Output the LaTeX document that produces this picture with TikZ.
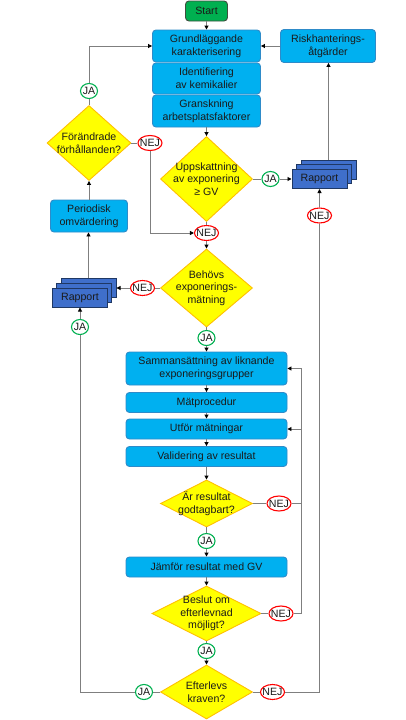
\documentclass[tikz,border=0pt]{standalone}
\usepackage{fontspec}
\setmainfont{Liberation Sans}
\usetikzlibrary{shapes.geometric,arrows.meta}
\definecolor{boxfill}{HTML}{00B0F0}
\definecolor{boxedge}{HTML}{2E8BC9}
\definecolor{diafill}{HTML}{FFFF00}
\definecolor{diaedge}{HTML}{FFC000}
\definecolor{startfill}{HTML}{00B050}
\definecolor{startedge}{HTML}{3F4F3F}
\definecolor{repfill}{HTML}{3F6FCB}
\definecolor{repedge}{HTML}{1F3864}
\definecolor{jacol}{HTML}{00B050}
\definecolor{nejcol}{HTML}{FF0000}
\definecolor{linecol}{HTML}{7F7F7F}
\definecolor{txtcol}{HTML}{1A1A1A}
\begin{document}
\begin{tikzpicture}[x=1pt,y=-1pt,
 every node/.style={font=\fontsize{10.6}{12.7}\selectfont, text=txtcol},
 box/.style={draw=boxedge, fill=boxfill, rounded corners=3.5pt, line width=0.9pt, align=center, inner sep=0pt},
 dia/.style={shape=diamond, draw=diaedge, fill=diafill, line width=0.9pt, inner sep=0pt},
 diatext/.style={align=center, inner sep=0pt},
 rep/.style={draw=repedge, fill=repfill, line width=1pt, minimum width=55pt, minimum height=19pt, inner sep=0pt},
 jacirc/.style={ellipse, draw=jacol, fill=white, line width=1.1pt, minimum width=17pt, minimum height=15pt, inner sep=0pt},
 nejcirc/.style={ellipse, draw=nejcol, fill=white, line width=1.1pt, minimum width=24pt, minimum height=15pt, inner sep=0pt},
 conn/.style={draw=linecol, line width=0.9pt},
 arr/.style={conn, -{Triangle[length=4pt,width=4pt,color=black,fill=black]}},
]
\fill[white] (0,0) rectangle (405,720);
\useasboundingbox (0,0) rectangle (405,720);

% main column
\node[box, fill=startfill, draw=startedge, minimum width=42pt, minimum height=20pt] (start) at (206.5,11) {Start};
\node[box, minimum width=108pt, minimum height=32pt] (grund) at (206.5,46) {Grundläggande\\karakterisering};
\node[box, minimum width=108pt, minimum height=31pt] (ident) at (206.5,78.5) {Identifiering\\av kemikalier};
\node[box, minimum width=108pt, minimum height=32pt] (gransk) at (206.5,111) {Granskning\\arbetsplatsfaktorer};
\node[box, minimum width=95pt, minimum height=33pt] (risk) at (328,46) {Riskhanterings-\\åtgärder};

\node[dia, minimum width=92pt, minimum height=85pt] (upps) at (206.5,179) {};
\node[diatext] at (upps.center) {Uppskattning\\av exponering\\≥ GV};

\node[dia, minimum width=84pt, minimum height=75pt] (forand) at (89,143) {};
\node[diatext] at (forand.center) {Förändrade\\förhållanden?};

\node[box, minimum width=77pt, minimum height=32pt] (period) at (89,216) {Periodisk\\omvärdering};

\node[dia, minimum width=92pt, minimum height=78pt] (behov) at (206.5,288) {};
\node[diatext] at (behov.center) {Behövs\\exponerings-\\mätning};

\node[box, minimum width=161pt, minimum height=33pt] (samm) at (206.5,368.5) {Sammansättning av liknande\\exponeringsgrupper};
\node[box, minimum width=161pt, minimum height=20pt] (matp) at (206.5,402.5) {Mätprocedur};
\node[box, minimum width=161pt, minimum height=20pt] (utfor) at (206.5,429) {Utför mätningar};
\node[box, minimum width=161pt, minimum height=20pt] (valid) at (206.5,456.5) {Validering av resultat};

\node[dia, minimum width=92pt, minimum height=47pt] (ar) at (206.5,503.5) {};
\node[diatext] at (ar.center) {Är resultat\\godtagbart?};

\node[box, minimum width=161pt, minimum height=20pt] (jamfor) at (206.5,567) {Jämför resultat med GV};

\node[dia, minimum width=109pt, minimum height=55pt] (beslut) at (206.5,613.5) {};
\node[diatext] at (beslut.center) {Beslut om\\efterlevnad\\möjligt?};

\node[dia, minimum width=92pt, minimum height=54pt] (efter) at (206.5,692) {};
\node[diatext] at (efter.center) {Efterlevs\\kraven?};

% report stacks
\node[rep] (rapRc) at (328.5,169.5) {};
\node[rep] (rapRb) at (324,174.2) {};
\node[rep] (rapR) at (319.5,179) {Rapport};
\node[rep] (rapLc) at (88.5,288) {};
\node[rep] (rapLb) at (84.2,292.7) {};
\node[rep] (rapL) at (80,297.5) {Rapport};

% JA / NEJ markers
\node[jacirc] (jaF) at (89,91) {\makebox[0pt]{JA}};
\node[nejcirc] (nejF) at (150,143) {\makebox[0pt]{NEJ}};
\node[jacirc] (jaU) at (270.5,179) {\makebox[0pt]{JA}};
\node[nejcirc] (nejR) at (319.5,215.5) {\makebox[0pt]{NEJ}};
\node[nejcirc] (nejU) at (206.5,233) {\makebox[0pt]{NEJ}};
\node[nejcirc] (nejB) at (142.5,288) {\makebox[0pt]{NEJ}};
\node[jacirc] (jaRL) at (80,327) {\makebox[0pt]{JA}};
\node[jacirc] (jaB) at (206.5,338) {\makebox[0pt]{JA}};
\node[nejcirc] (nejA) at (279,503.5) {\makebox[0pt]{NEJ}};
\node[jacirc] (jaA) at (206.5,541) {\makebox[0pt]{JA}};
\node[nejcirc] (nejBe) at (281,613.5) {\makebox[0pt]{NEJ}};
\node[jacirc] (jaBe) at (206.5,651) {\makebox[0pt]{JA}};
\node[jacirc] (jaE) at (144,692) {\makebox[0pt]{JA}};
\node[nejcirc] (nejE) at (272.5,692) {\makebox[0pt]{NEJ}};

\coordinate (fbx) at (301.7,0);

% connectors
\draw[arr] (start.south) -- (grund.north);
\draw[arr] (gransk.south) -- (upps.north);
\draw[conn] (upps.east) -- (jaU.west);
\draw[arr] (jaU.east) -- (jaU.east -| rapR.west);
\draw[arr] (rapRc.north) -- (rapRc.north |- risk.south);
\draw[arr] (risk.west) -- (grund.east);
\draw[conn] (upps.south) -- (nejU.north);
\draw[arr] (nejU.south) -- (behov.north);
\draw[conn] (forand.east) -- (nejF.west);
\draw[arr] (nejF.south) |- (nejU.west);
\draw[conn] (forand.north) -- (jaF.south);
\draw[arr] (jaF.north) |- (grund.west);
\draw[arr] (period.north) -- (forand.south);
\draw[arr] (rapLc.north) -- (rapLc.north |- period.south);
\draw[conn] (behov.west) -- (nejB.east);
\draw[arr] (nejB.west) -- (nejB.west -| rapLc.east);
\draw[conn] (behov.south) -- (jaB.north);
\draw[arr] (jaB.south) -- (samm.north);
\draw[arr] (samm.south) -- (matp.north);
\draw[arr] (matp.south) -- (utfor.north);
\draw[arr] (utfor.south) -- (valid.north);
\draw[arr] (valid.south) -- (ar.north);
\draw[conn] (ar.east) -- (nejA.west);
\draw[arr] (nejA.east) -| (fbx |- utfor.east) -- (utfor.east);
\draw[conn] (ar.south) -- (jaA.north);
\draw[arr] (jaA.south) -- (jamfor.north);
\draw[arr] (jamfor.south) -- (beslut.north);
\draw[conn] (beslut.east) -- (nejBe.west);
\draw[arr] (nejBe.east) -| (fbx |- samm.east) -- (samm.east);
\draw[conn] (beslut.south) -- (jaBe.north);
\draw[arr] (jaBe.south) -- (efter.north);
\draw[conn] (efter.west) -- (jaE.east);
\draw[conn] (jaE.west) -| (jaRL.south);
\draw[arr] (jaRL.north) -- (rapL.south);
\draw[conn] (efter.east) -- (nejE.west);
\draw[conn] (nejE.east) -| (nejR.south);
\draw[arr] (nejR.north) -- (rapR.south);
\end{tikzpicture}
\end{document}
